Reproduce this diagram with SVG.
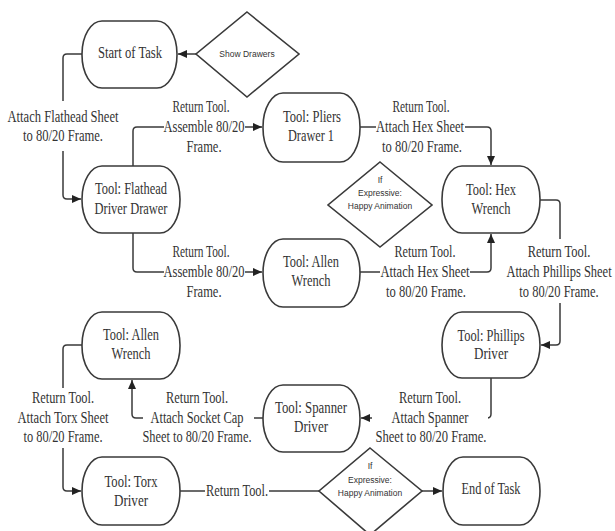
<svg xmlns="http://www.w3.org/2000/svg" width="615" height="531" viewBox="0 0 615 531">
<style>
.node{fill:#fff;stroke:#3a3a3a;stroke-width:1.6}
.conn{fill:none;stroke:#3a3a3a;stroke-width:1.5}
.t{font-family:"Liberation Serif","Times New Roman",serif;font-size:16px;fill:#333;text-anchor:middle}
.s{font-family:"Liberation Sans",Arial,sans-serif;font-size:8.5px;fill:#333;text-anchor:middle}
.bg{fill:#fff}
</style>
<defs>
<marker id="arr" markerUnits="userSpaceOnUse" markerWidth="10" markerHeight="8" refX="9" refY="4" orient="auto">
<path d="M0,0 L9,4 L0,8 z" fill="#222"/>
</marker>
</defs>
<rect width="615" height="531" fill="#fff"/>
<g id="connectors">
<path class="conn" d="M197,54 H178" marker-end="url(#arr)"/>
<path class="conn" d="M82,54 H67 Q63,54 63,58 V195 Q63,199 67,199 H81" marker-end="url(#arr)"/>
<path class="conn" d="M133,166 V131 Q133,127 137,127 H262" marker-end="url(#arr)"/>
<path class="conn" d="M360,127 H487 Q491,127 491,131 V165" marker-end="url(#arr)"/>
<path class="conn" d="M133,233 V268 Q133,272 137,272 H262" marker-end="url(#arr)"/>
<path class="conn" d="M360,272 H487 Q491,272 491,268 V234" marker-end="url(#arr)"/>
<path class="conn" d="M540,200 H556 Q560,200 560,204 V341 Q560,345 556,345 H541" marker-end="url(#arr)"/>
<path class="conn" d="M491,378 V414 Q491,418 487,418 H361" marker-end="url(#arr)"/>
<path class="conn" d="M263,418 H136 Q132,418 132,414 V380" marker-end="url(#arr)"/>
<path class="conn" d="M82,345 H67 Q63,345 63,349 V487 Q63,491 67,491 H81" marker-end="url(#arr)"/>
<path class="conn" d="M180,491 H319"/>
<path class="conn" d="M422,491 H442" marker-end="url(#arr)"/>
</g>
<g id="labels">
<rect class="bg" x="6" y="101" width="114" height="50"/>
<text class="t" x="63" y="122" textLength="111" lengthAdjust="spacingAndGlyphs">Attach Flathead Sheet</text>
<text class="t" x="63" y="141" textLength="80" lengthAdjust="spacingAndGlyphs">to 80/20 Frame.</text>
<rect class="bg" x="164" y="118" width="81" height="18"/>
<text class="t" x="201" y="112" textLength="57" lengthAdjust="spacingAndGlyphs">Return Tool.</text>
<text class="t" x="204" y="132" textLength="81" lengthAdjust="spacingAndGlyphs">Assemble 80/20</text>
<text class="t" x="204" y="152" textLength="35" lengthAdjust="spacingAndGlyphs">Frame.</text>
<rect class="bg" x="376" y="118" width="89" height="18"/>
<text class="t" x="421" y="112" textLength="57" lengthAdjust="spacingAndGlyphs">Return Tool.</text>
<text class="t" x="420" y="132" textLength="88" lengthAdjust="spacingAndGlyphs">Attach Hex Sheet</text>
<text class="t" x="422" y="152" textLength="80" lengthAdjust="spacingAndGlyphs">to 80/20 Frame.</text>
<rect class="bg" x="164" y="263" width="81" height="18"/>
<text class="t" x="201" y="257" textLength="57" lengthAdjust="spacingAndGlyphs">Return Tool.</text>
<text class="t" x="204" y="277" textLength="81" lengthAdjust="spacingAndGlyphs">Assemble 80/20</text>
<text class="t" x="204" y="297" textLength="35" lengthAdjust="spacingAndGlyphs">Frame.</text>
<rect class="bg" x="380" y="263" width="90" height="18"/>
<text class="t" x="425" y="257" textLength="61" lengthAdjust="spacingAndGlyphs">Return Tool.</text>
<text class="t" x="425" y="277" textLength="89" lengthAdjust="spacingAndGlyphs">Attach Hex Sheet</text>
<text class="t" x="426" y="297" textLength="80" lengthAdjust="spacingAndGlyphs">to 80/20 Frame.</text>
<rect class="bg" x="506" y="239" width="106" height="64"/>
<g transform="translate(559,0) scale(0.78,1)">
<text class="t" x="0" y="257">Return Tool.</text>
<text class="t" x="0" y="277">Attach Phillips Sheet</text>
<text class="t" x="0" y="297">to 80/20 Frame.</text>
</g>
<rect class="bg" x="372" y="409" width="116" height="18"/>
<text class="t" x="430" y="403" textLength="62" lengthAdjust="spacingAndGlyphs">Return Tool.</text>
<text class="t" x="430" y="423" textLength="77" lengthAdjust="spacingAndGlyphs">Attach Spanner</text>
<text class="t" x="431" y="442" textLength="111" lengthAdjust="spacingAndGlyphs">Sheet to 80/20 Frame.</text>
<rect class="bg" x="143" y="409" width="111" height="18"/>
<text class="t" x="197" y="403" textLength="62" lengthAdjust="spacingAndGlyphs">Return Tool.</text>
<text class="t" x="197" y="423" textLength="93" lengthAdjust="spacingAndGlyphs">Attach Socket Cap</text>
<text class="t" x="197" y="442" textLength="109" lengthAdjust="spacingAndGlyphs">Sheet to 80/20 Frame.</text>
<rect class="bg" x="14" y="388" width="98" height="60"/>
<text class="t" x="63" y="403" textLength="62" lengthAdjust="spacingAndGlyphs">Return Tool.</text>
<text class="t" x="63" y="423" textLength="91" lengthAdjust="spacingAndGlyphs">Attach Torx Sheet</text>
<text class="t" x="63" y="442" textLength="79" lengthAdjust="spacingAndGlyphs">to 80/20 Frame.</text>
<rect class="bg" x="205" y="482" width="64" height="18"/>
<text class="t" x="237" y="496" textLength="62" lengthAdjust="spacingAndGlyphs">Return Tool.</text>
</g>
<g id="show-drawers">
<polygon class="node" points="247,12 299,54 247,97 196,54"/>
<text class="s" x="247" y="57">Show Drawers</text>
</g>
<g id="start">
<rect class="node" x="82" y="21" width="95" height="67" rx="20" ry="33"/>
<text class="t" x="130" y="58" textLength="64" lengthAdjust="spacingAndGlyphs">Start of Task</text>
</g>
<g id="pliers">
<rect class="node" x="263" y="93" width="97" height="69" rx="20" ry="34"/>
<text class="t" x="312" y="122" textLength="58" lengthAdjust="spacingAndGlyphs">Tool: Pliers</text>
<text class="t" x="311" y="141" textLength="46" lengthAdjust="spacingAndGlyphs">Drawer 1</text>
</g>
<g id="flathead">
<rect class="node" x="82" y="166" width="98" height="67" rx="20" ry="33"/>
<text class="t" x="131" y="194" textLength="72" lengthAdjust="spacingAndGlyphs">Tool: Flathead</text>
<text class="t" x="131" y="214" textLength="73" lengthAdjust="spacingAndGlyphs">Driver Drawer</text>
</g>
<g id="hex">
<rect class="node" x="442" y="166" width="98" height="67" rx="20" ry="33"/>
<text class="t" x="491" y="195" textLength="50" lengthAdjust="spacingAndGlyphs">Tool: Hex</text>
<text class="t" x="491" y="214" textLength="39" lengthAdjust="spacingAndGlyphs">Wrench</text>
</g>
<g id="if-top">
<polygon class="node" points="380,162 432,205 380,247 328,205"/>
<text class="s" x="380" y="183">If</text>
<text class="s" x="380" y="196">Expressive:</text>
<text class="s" x="380" y="209">Happy Animation</text>
</g>
<g id="allen-mid">
<rect class="node" x="263" y="239" width="97" height="68" rx="20" ry="34"/>
<text class="t" x="311" y="267" textLength="56" lengthAdjust="spacingAndGlyphs">Tool: Allen</text>
<text class="t" x="311" y="286" textLength="39" lengthAdjust="spacingAndGlyphs">Wrench</text>
</g>
<g id="phillips">
<rect class="node" x="442" y="312" width="98" height="66" rx="20" ry="33"/>
<text class="t" x="491" y="341" textLength="67" lengthAdjust="spacingAndGlyphs">Tool: Phillips</text>
<text class="t" x="491" y="359" textLength="34" lengthAdjust="spacingAndGlyphs">Driver</text>
</g>
<g id="allen-left">
<rect class="node" x="82" y="312" width="98" height="67" rx="20" ry="33"/>
<text class="t" x="131" y="340" textLength="56" lengthAdjust="spacingAndGlyphs">Tool: Allen</text>
<text class="t" x="131" y="359" textLength="39" lengthAdjust="spacingAndGlyphs">Wrench</text>
</g>
<g id="spanner">
<rect class="node" x="263" y="385" width="97" height="67" rx="20" ry="33"/>
<text class="t" x="311" y="413" textLength="72" lengthAdjust="spacingAndGlyphs">Tool: Spanner</text>
<text class="t" x="311" y="432" textLength="34" lengthAdjust="spacingAndGlyphs">Driver</text>
</g>
<g id="torx">
<rect class="node" x="82" y="457" width="98" height="68" rx="20" ry="34"/>
<text class="t" x="131" y="487" textLength="53" lengthAdjust="spacingAndGlyphs">Tool: Torx</text>
<text class="t" x="131" y="506" textLength="34" lengthAdjust="spacingAndGlyphs">Driver</text>
</g>
<g id="if-bottom">
<polygon class="node" points="370,448 422,491 370,535 319,491"/>
<text class="s" x="370" y="469">If</text>
<text class="s" x="370" y="483">Expressive:</text>
<text class="s" x="370" y="496">Happy Animation</text>
</g>
<g id="end">
<rect class="node" x="443" y="457" width="97" height="68" rx="20" ry="34"/>
<text class="t" x="491" y="494" textLength="59" lengthAdjust="spacingAndGlyphs">End of Task</text>
</g>
</svg>
